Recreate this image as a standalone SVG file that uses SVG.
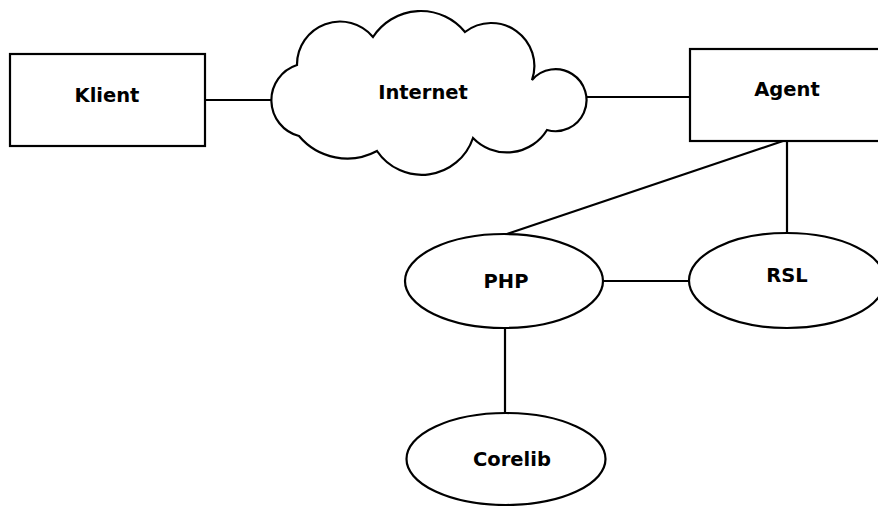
<svg xmlns="http://www.w3.org/2000/svg" width="878" height="506" viewBox="0 0 878 506">
<style>
.shape{fill:#ffffff;stroke:#000000;stroke-width:2.2}
.conn line{stroke:#000000;stroke-width:2.2}
.lbl{font-family:"DejaVu Sans",sans-serif;font-weight:bold;font-size:19.5px;fill:#000000;text-anchor:middle}
</style>
<rect width="878" height="506" fill="#ffffff"/>
<g id="connectors" class="conn">
<line x1="205" y1="100" x2="271" y2="100"/>
<line x1="586" y1="97" x2="690" y2="97"/>
<line x1="783" y1="141" x2="507" y2="234"/>
<line x1="787" y1="141" x2="787" y2="233"/>
<line x1="603" y1="281" x2="689" y2="281"/>
<line x1="505" y1="328" x2="505" y2="413"/>
</g>
<g id="klient">
<rect class="shape" x="10" y="54" width="195" height="92"/>
<text class="lbl" x="107" y="102">Klient</text>
</g>
<g id="internet">
<path class="shape" d="M297,65 A43,43 0 0 1 373,37 A57,57 0 0 1 465,32 A43,43 0 0 1 532,80 A31,31 0 1 1 547,130 A47,47 0 0 1 473,138 A54,54 0 0 1 377,151 A63,63 0 0 1 299,136 A37,37 0 0 1 297,65 Z"/>
<text class="lbl" x="423" y="99">Internet</text>
</g>
<g id="agent">
<rect class="shape" x="690" y="49" width="194" height="92"/>
<text class="lbl" x="787" y="96">Agent</text>
</g>
<g id="php">
<ellipse class="shape" cx="504" cy="281" rx="99" ry="47"/>
<text class="lbl" x="506" y="288">PHP</text>
</g>
<g id="rsl">
<ellipse class="shape" cx="787" cy="280.5" rx="98" ry="47.5"/>
<text class="lbl" x="787" y="282">RSL</text>
</g>
<g id="corelib">
<ellipse class="shape" cx="506" cy="459" rx="99.5" ry="46"/>
<text class="lbl" x="512" y="466">Corelib</text>
</g>
</svg>
